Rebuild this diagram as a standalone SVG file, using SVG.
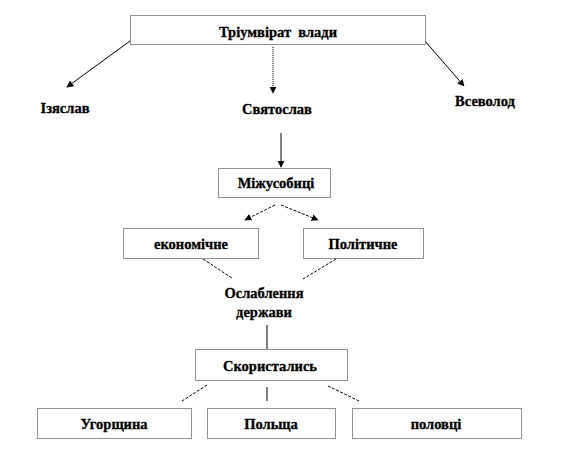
<svg xmlns="http://www.w3.org/2000/svg" width="580" height="459" viewBox="0 0 580 459">
<style>
  .box { fill: #ffffff; stroke: #222; stroke-width: 1; stroke-dasharray: 1 1; }
  .t { font-family: "Liberation Serif", "Times New Roman", serif; font-weight: bold; font-size: 14.5px; fill: #000; stroke: #000; stroke-width: 0.3; text-anchor: middle; }
  .c { stroke: #000; stroke-width: 1; fill: none; }
  .dot { stroke-dasharray: 1 1; }
  .dash { stroke-dasharray: 3 1.5; }
</style>
<defs>
  <marker id="ah" viewBox="0 0 10 10" refX="9" refY="5" markerWidth="7" markerHeight="7" orient="auto" markerUnits="userSpaceOnUse">
    <path d="M0,0 L10,5 L0,10 z" fill="#000"/>
  </marker>
</defs>
<rect width="580" height="459" fill="#ffffff"/>

<g id="connectors">
  <line class="c" x1="130" y1="41" x2="67" y2="87" marker-end="url(#ah)"/>
  <line class="c dot" x1="273" y1="47" x2="273" y2="93" marker-end="url(#ah)"/>
  <line class="c" x1="425" y1="41" x2="464" y2="86" marker-end="url(#ah)"/>
  <line class="c" x1="281" y1="133" x2="281" y2="167" marker-end="url(#ah)"/>
  <line class="c dash" x1="275" y1="205" x2="245" y2="220" marker-end="url(#ah)"/>
  <line class="c dash" x1="281" y1="205" x2="318" y2="220" marker-end="url(#ah)"/>
  <line class="c dash" x1="203" y1="259" x2="232" y2="278"/>
  <line class="c dash" x1="336" y1="259" x2="303" y2="279"/>
  <line class="c" x1="267" y1="325" x2="267" y2="349"/>
  <line class="c dash" x1="207" y1="385" x2="182" y2="401"/>
  <line class="c" x1="267" y1="387" x2="267" y2="401"/>
  <line class="c dash" x1="328" y1="386" x2="359" y2="401"/>
</g>

<g id="triumvirat">
  <rect class="box" x="130.5" y="15.5" width="295" height="29"/>
  <text class="t" x="278" y="37" xml:space="preserve">Тріумвірат  влади</text>
</g>
<g id="izyaslav">
  <text class="t" x="65" y="113">Ізяслав</text>
</g>
<g id="svyatoslav">
  <text class="t" x="277" y="114">Святослав</text>
</g>
<g id="vsevolod">
  <text class="t" x="485" y="106">Всеволод</text>
</g>
<g id="mizhusobytsi">
  <rect class="box" x="218.5" y="168.5" width="112" height="29"/>
  <text class="t" x="276" y="188">Міжусобиці</text>
</g>
<g id="ekonomichne">
  <rect class="box" x="123.5" y="228.5" width="135" height="30"/>
  <text class="t" x="191" y="249">економічне</text>
</g>
<g id="politychne">
  <rect class="box" x="303.5" y="228.5" width="120" height="30"/>
  <text class="t" x="363" y="249">Політичне</text>
</g>
<g id="oslablennya">
  <text class="t" x="264" y="298">Ослаблення</text>
  <text class="t" x="264" y="317">держави</text>
</g>
<g id="skorystalys">
  <rect class="box" x="195.5" y="349.5" width="152" height="31"/>
  <text class="t" x="270" y="371">Скористались</text>
</g>
<g id="ugorshchyna">
  <rect class="box" x="37.5" y="408.5" width="154" height="30"/>
  <text class="t" x="114" y="429">Угорщина</text>
</g>
<g id="polshcha">
  <rect class="box" x="207.5" y="408.5" width="128" height="30"/>
  <text class="t" x="271" y="429">Польща</text>
</g>
<g id="polovtsi">
  <rect class="box" x="352.5" y="408.5" width="169" height="30"/>
  <text class="t" x="436" y="429">половці</text>
</g>
</svg>
